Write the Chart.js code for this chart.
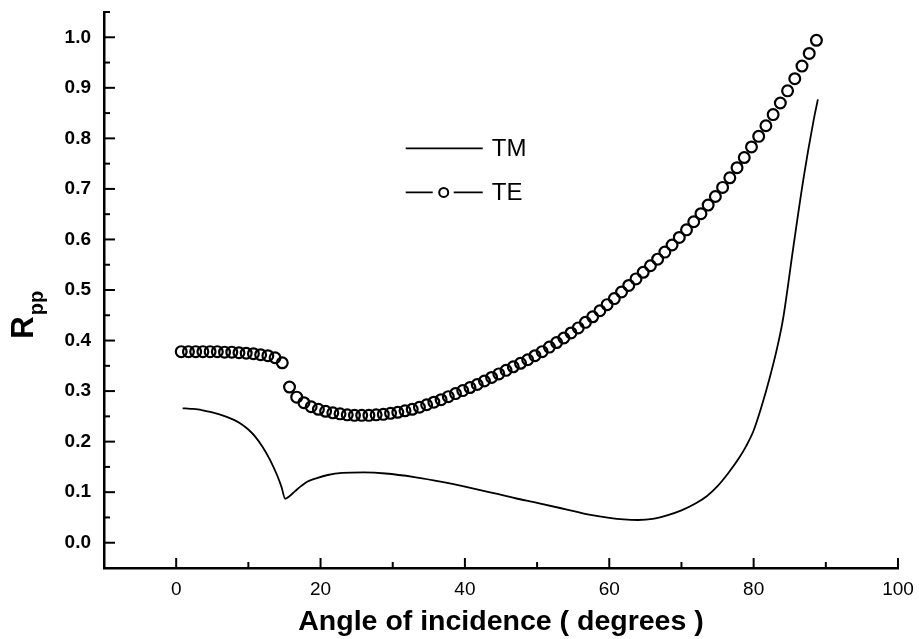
<!DOCTYPE html>
<html>
<head>
<meta charset="utf-8">
<title>Rpp vs angle of incidence</title>
<script src="https://cdn.jsdelivr.net/npm/chart.js@4.4.1/dist/chart.umd.min.js"></script>
<style>
  html, body { margin: 0; padding: 0; background: #fff; }
  canvas { display: block; }
</style>
</head>
<body>
<canvas id="rppChart" width="919" height="639"></canvas>
<script>
// #-------------- Data --------------#

// TE series (open circles)
const teAngle = [
    0.7, 1.7, 2.7, 3.7, 4.7, 5.7, 6.7, 7.7, 8.7, 9.7,
    10.7, 11.7, 12.7, 13.7, 14.7, 15.7, 16.7, 17.7, 18.7, 19.7,
    20.7, 21.7, 22.7, 23.7, 24.7, 25.7, 26.7, 27.7, 28.7, 29.7,
    30.7, 31.7, 32.7, 33.7, 34.7, 35.7, 36.7, 37.7, 38.7, 39.7,
    40.7, 41.7, 42.7, 43.7, 44.7, 45.7, 46.7, 47.7, 48.7, 49.7,
    50.7, 51.7, 52.7, 53.7, 54.7, 55.7, 56.7, 57.7, 58.7, 59.7,
    60.7, 61.7, 62.7, 63.7, 64.7, 65.7, 66.7, 67.7, 68.7, 69.7,
    70.7, 71.7, 72.7, 73.7, 74.7, 75.7, 76.7, 77.7, 78.7, 79.7,
    80.7, 81.7, 82.7, 83.7, 84.7, 85.7, 86.7, 87.7, 88.7
];
const teR = [
    0.378, 0.378, 0.378, 0.378, 0.378, 0.378, 0.377, 0.377, 0.376, 0.375,
    0.374, 0.372, 0.370, 0.366, 0.356, 0.308, 0.288, 0.277, 0.269, 0.264,
    0.260, 0.257, 0.255, 0.253, 0.252, 0.252, 0.252, 0.253, 0.254, 0.256,
    0.258, 0.261, 0.264, 0.268, 0.273, 0.278, 0.283, 0.289, 0.295, 0.301,
    0.307, 0.313, 0.320, 0.327, 0.334, 0.341, 0.348, 0.355, 0.362, 0.370,
    0.378, 0.387, 0.396, 0.405, 0.415, 0.425, 0.436, 0.447, 0.459, 0.471,
    0.483, 0.496, 0.509, 0.522, 0.535, 0.548, 0.561, 0.575, 0.589, 0.604,
    0.619, 0.635, 0.651, 0.668, 0.685, 0.703, 0.722, 0.742, 0.762, 0.783,
    0.804, 0.825, 0.847, 0.870, 0.894, 0.918, 0.943, 0.968, 0.994
];

// TM series (solid line)
const tmAngle = [
    0.9, 2, 3, 4, 5, 6, 7, 8, 9, 10, 11, 12, 13, 14, 14.6, 15.1, 15.6, 16.4,
    17.3, 18.2, 19.5, 21, 23, 26, 29, 33, 37, 40, 44, 47, 50, 54, 57,
    60, 62, 64, 66, 68, 70, 72, 73.5, 75, 76.5, 78, 79, 80, 81, 82.2,
    83.2, 84.1, 85.5, 86.9, 88.3, 88.9
];
const tmR = [
    0.266, 0.265, 0.264, 0.261, 0.258, 0.254, 0.249, 0.243, 0.235, 0.224, 0.209, 0.189, 0.164, 0.133, 0.110, 0.087, 0.091, 0.101,
    0.112, 0.121, 0.128, 0.134, 0.138, 0.139, 0.137, 0.130, 0.120, 0.111, 0.098, 0.088, 0.079, 0.066, 0.056,
    0.049, 0.046, 0.045, 0.047, 0.054, 0.064, 0.078, 0.092, 0.112, 0.138, 0.168, 0.192, 0.222, 0.265, 0.325,
    0.382, 0.445, 0.585, 0.720, 0.835, 0.877
];

// Axis settings
const xMin = -10, xMax = 100, xStep = 10, xLabelEvery = 20;
const yMin = -0.05, yMax = 1.05, yStep = 0.05;
const seriesNames = ['TM', 'TE'];
const xTitle = 'Angle of incidence ( degrees )';

const fontFamily = '"Liberation Sans", Arial, Helvetica, sans-serif';

// #-------------- Plugins --------------#

// Tick marks pointing into the plot, as in the original figure
const inwardTicks = {
    id: 'inwardTicks',
    afterDraw(chart) {
        const ctx = chart.ctx;
        const area = chart.chartArea;
        const xs = chart.scales.x, ys = chart.scales.y;
        ctx.save();
        ctx.strokeStyle = '#000';
        ctx.lineWidth = 2;
        xs.ticks.forEach(t => {
            if (t.value <= xMin) return;
            const px = xs.getPixelForValue(t.value);
            const major = Math.round(t.value) % xLabelEvery === 0;
            ctx.beginPath();
            ctx.moveTo(px, area.bottom);
            ctx.lineTo(px, area.bottom - (major ? 10 : 6));
            ctx.stroke();
        });
        ys.ticks.forEach(t => {
            if (t.value <= yMin + 1e-9) return;
            const py = ys.getPixelForValue(t.value);
            const major = Math.round(t.value * 100) % 10 === 0;
            ctx.beginPath();
            ctx.moveTo(area.left, py);
            ctx.lineTo(area.left + (major ? 11 : 6), py);
            ctx.stroke();
        });
        ctx.restore();
    }
};

// Y title with subscript: R_pp
const yTitle = {
    id: 'yTitle',
    afterDraw(chart) {
        const ctx = chart.ctx;
        const ys = chart.scales.y;
        const cy = ys.getPixelForValue(0.45);
        ctx.save();
        ctx.translate(33, cy);
        ctx.rotate(-Math.PI / 2);
        ctx.fillStyle = '#000';
        ctx.textBaseline = 'alphabetic';
        ctx.font = 'bold 31px ' + fontFamily;
        const wR = ctx.measureText('R').width;
        ctx.font = 'bold 20px ' + fontFamily;
        const wP = ctx.measureText('pp').width;
        const start = -(wR + wP) / 2;
        ctx.font = 'bold 31px ' + fontFamily;
        ctx.fillText('R', start, 0);
        ctx.font = 'bold 20px ' + fontFamily;
        ctx.fillText('pp', start + wR + 1, 10);
        ctx.restore();
    }
};

// Legend: plain line for TM, line-circle-line for TE
const plotLegend = {
    id: 'plotLegend',
    afterDraw(chart) {
        const ctx = chart.ctx;
        const x0 = chart.scales.x.getPixelForValue(31.8);
        const y0 = chart.scales.y.getPixelForValue(0.78);
        const y1 = y0 + 44;
        ctx.save();
        ctx.strokeStyle = '#000';
        ctx.fillStyle = '#000';
        ctx.lineWidth = 1.8;
        ctx.beginPath();
        ctx.moveTo(x0, y0);
        ctx.lineTo(x0 + 77, y0);
        ctx.stroke();
        ctx.beginPath();
        ctx.moveTo(x0, y1);
        ctx.lineTo(x0 + 27, y1);
        ctx.moveTo(x0 + 48, y1);
        ctx.lineTo(x0 + 77, y1);
        ctx.stroke();
        ctx.lineWidth = 2;
        ctx.beginPath();
        ctx.arc(x0 + 38, y1, 4.5, 0, Math.PI * 2);
        ctx.stroke();
        ctx.font = '24px ' + fontFamily;
        ctx.textBaseline = 'middle';
        ctx.fillText(seriesNames[0], x0 + 86, y0 + 1);
        ctx.fillText(seriesNames[1], x0 + 86, y1 + 1);
        ctx.restore();
    }
};

// #-------------- Chart --------------#

const tmPoints = tmAngle.map((a, i) => ({ x: a, y: tmR[i] }));
const tePoints = teAngle.map((a, i) => ({ x: a, y: teR[i] }));

const ctx = document.getElementById('rppChart').getContext('2d');
new Chart(ctx, {
    type: 'line',
    data: {
        datasets: [{
            label: seriesNames[0],
            data: tmPoints,
            borderColor: '#000',
            borderWidth: 1.8,
            pointRadius: 0,
            fill: false,
            cubicInterpolationMode: 'monotone'
        }, {
            label: seriesNames[1],
            data: tePoints,
            showLine: false,
            pointRadius: 5.4,
            pointBorderWidth: 2.2,
            pointBorderColor: '#000',
            pointBackgroundColor: 'rgba(0,0,0,0)'
        }]
    },
    options: {
        responsive: false,
        animation: false,
        devicePixelRatio: 1,
        layout: { padding: { top: 12, right: 21, bottom: 0, left: 0 } },
        plugins: {
            legend: { display: false },
            tooltip: { enabled: false }
        },
        scales: {
            x: {
                type: 'linear',
                min: xMin, max: xMax,
                grid: { display: false, drawTicks: false },
                border: { display: true, color: '#000', width: 2.5 },
                ticks: {
                    stepSize: xStep,
                    autoSkip: false,
                    maxRotation: 0,
                    padding: 10,
                    color: '#000',
                    font: { family: fontFamily, size: 19 },
                    callback: v => (v >= 0 && Math.round(v) % xLabelEvery === 0) ? String(Math.round(v)) : ''
                },
                title: {
                    display: true,
                    text: xTitle,
                    color: '#000',
                    font: { family: fontFamily, size: 28.5, weight: 'bold' },
                    padding: { top: 0, bottom: 0 }
                },
                afterFit: scale => {
                    scale.height = 71;
                    scale.paddingLeft = 0;
                    scale.paddingRight = 0;
                }
            },
            y: {
                type: 'linear',
                min: yMin, max: yMax,
                grid: { display: false, drawTicks: false },
                border: { display: true, color: '#000', width: 2.5 },
                ticks: {
                    stepSize: yStep,
                    autoSkip: false,
                    padding: 13,
                    color: '#000',
                    font: { family: fontFamily, size: 19, weight: 'bold' },
                    callback: v => {
                        const h = Math.round(v * 100);
                        return h % 10 === 0 ? (h / 100).toFixed(1) : '';
                    }
                },
                afterFit: scale => {
                    scale.width = 104;
                    scale.paddingTop = 0;
                    scale.paddingBottom = 0;
                }
            }
        }
    },
    plugins: [inwardTicks, yTitle, plotLegend]
});
</script>
</body>
</html>
